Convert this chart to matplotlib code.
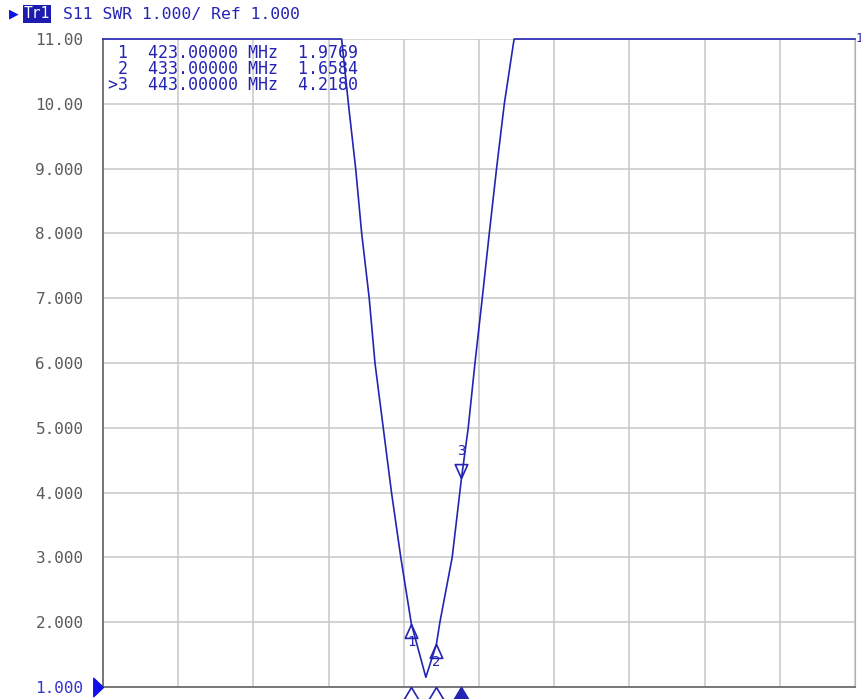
import numpy as np
import matplotlib
matplotlib.use("Agg")
import matplotlib.pyplot as plt

# S11 SWR trace (300-600 MHz, clipped at 11)
freq = [300.0, 395.2, 397.9, 400.8, 403.2, 406.2, 408.5, 411.8, 415.1, 418.8,
        423.0, 428.8, 433.0, 434.4, 439.3, 443.0, 445.7, 448.4, 451.3, 454.1,
        457.0, 460.1, 464.0, 600.0]
swr = [11.0, 11.0, 10.0, 9.0, 8.0, 7.0, 6.0, 5.0, 4.0, 3.0,
       1.9769, 1.15, 1.6584, 2.0, 3.0, 4.218, 5.0, 6.0, 7.0, 8.0,
       9.0, 10.0, 11.0, 11.0]

marker_ids = [1, 2, 3]
marker_freq = [423.0, 433.0, 443.0]
marker_swr = [1.9769, 1.6584, 4.2180]

ytick_vals = [11, 10, 9, 8, 7, 6, 5, 4, 3, 2, 1]
ytick_labels = ["11.00", "10.00", "9.000", "8.000", "7.000", "6.000",
                "5.000", "4.000", "3.000", "2.000", "1.000"]
xtick_vals = np.linspace(300, 600, 11)

blue = "#2424b4"
mono = "DejaVu Sans Mono"

fig = plt.figure(figsize=(8.62, 6.99), dpi=100)
ax = fig.add_axes([103 / 862, 12 / 699, 752 / 862, 648 / 699])
ax.set_xlim(300, 600)
ax.set_ylim(1, 11)

ax.set_xticks(xtick_vals)
ax.set_xticklabels([])
ax.set_yticks(ytick_vals)
ax.set_yticklabels(ytick_labels, family=mono, fontsize=11.5, color="#5a5a5a")
ax.tick_params(length=0, pad=14)
ax.get_yticklabels()[-1].set_color("#3434d0")
ax.grid(True, color="#c8c8c8", lw=1.1)
ax.set_axisbelow(True)

for s in ["left", "bottom"]:
    ax.spines[s].set_color("#6e6e6e")
    ax.spines[s].set_linewidth(1.3)
ax.spines["right"].set_color("#b0b0b0")
ax.spines["top"].set_visible(False)

# trace
ax.plot(freq, np.minimum(swr, 11.0), color=blue, lw=1.2, clip_on=False, zorder=5)

# markers on the trace
up_tri = [(0, 0), (-0.45, -1), (0.45, -1), (0, 0)]
down_tri = [(0, 0), (-0.45, 1), (0.45, 1), (0, 0)]
for mid, f, v in zip(marker_ids, marker_freq, marker_swr):
    if mid == 3:
        ax.plot(f, v, marker=down_tri, ms=20, mfc="none", mec=blue, mew=1.2, zorder=6)
        ax.annotate(str(mid), (f, v), xytext=(0, 15), textcoords="offset points",
                    ha="center", va="bottom", family=mono, fontsize=10, color=blue)
    else:
        ax.plot(f, v, marker=up_tri, ms=20, mfc="none", mec=blue, mew=1.2, zorder=6)
        ax.annotate(str(mid), (f, v), xytext=(0, -8), textcoords="offset points",
                    ha="center", va="top", family=mono, fontsize=10, color=blue)

# marker flags under the x axis
flag = [(0, 0), (-0.6, -1), (0.6, -1), (0, 0)]
for mid, f in zip(marker_ids, marker_freq):
    ax.plot(f, 1, marker=flag, ms=25, mfc=blue if mid == 3 else "white",
            mec=blue, mew=1.2, clip_on=False, zorder=7)

# reference position arrow on the left
ref_arrow = [(0, 0), (-1, 0.95), (-1, -0.95), (0, 0)]
ax.plot(300, 1, marker=ref_arrow, ms=14, color="#1010e8", clip_on=False, zorder=7)

# little "1" at the top right
ax.text(1.001, 1.0, "1", transform=ax.transAxes, ha="left", va="center",
        family=mono, fontsize=9, color=blue)

# marker table
rows = []
for mid, f, v in zip(marker_ids, marker_freq, marker_swr):
    prefix = ">" if mid == 3 else " "
    rows.append(f"{prefix}{mid}  {f:.5f} MHz  {v:.4f}")
fig.text(108 / 862, 1 - 44 / 699, "\n".join(rows), family=mono, fontsize=12,
         color=blue, ha="left", va="top", linespacing=0.86)

# header
fig.text(9 / 862, 1 - 14 / 699, "\u25b6", fontsize=9, color="#1010e8",
         ha="left", va="center", family="DejaVu Sans")
fig.text(24 / 862, 1 - 14 / 699, "Tr1", family=mono, fontsize=10.5, color="white",
         ha="left", va="center",
         bbox=dict(boxstyle="square,pad=0.08", fc="#1c1cb0", ec="none"))
fig.text(63 / 862, 1 - 14 / 699, "S11 SWR 1.000/ Ref 1.000", family=mono,
         fontsize=11.8, color=blue, ha="left", va="center")

fig.savefig("out.png", dpi=100, facecolor="white")
